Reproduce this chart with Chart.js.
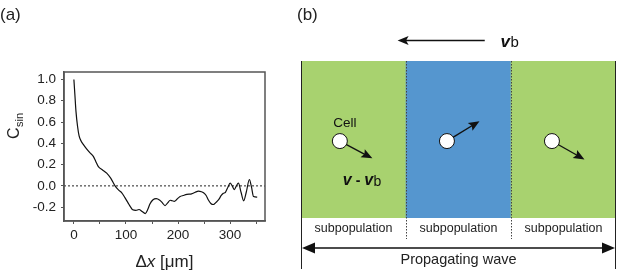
<!DOCTYPE html>
<html>
<head>
<meta charset="utf-8">
<script src="https://cdn.jsdelivr.net/npm/chart.js@4.4.0/dist/chart.umd.min.js"></script>
<style>
  html, body { margin:0; padding:0; background:#fff; }
  #wrap { position:relative; width:617px; height:273px; overflow:hidden; }
  #ca { position:absolute; left:0; top:0; }
  #cb { position:absolute; left:280px; top:0; }
</style>
</head>
<body>
<div id="wrap">
  <canvas id="ca" width="280" height="273"></canvas>
  <canvas id="cb" width="337" height="273"></canvas>
</div>
<script>
// ---------- Panel (a) data ----------
const dxValues = [0, 2, 4, 7, 10, 14, 18, 24, 31, 37, 42, 47, 55, 63, 71, 79, 86, 92, 98, 104, 109, 113, 119, 125, 131, 137, 142, 146, 152, 158, 165, 170, 175, 180, 185, 189, 193, 198, 204, 210, 217, 226, 233, 239, 245, 249, 254, 258, 263, 268, 273, 278, 283, 287, 291, 296, 300, 304, 308, 312, 316, 321, 326, 331, 337, 341, 345, 352];
const csinValues = [1.0, 0.85, 0.7, 0.56, 0.47, 0.42, 0.39, 0.35, 0.31, 0.28, 0.23, 0.18, 0.15, 0.12, 0.07, 0.0, -0.04, -0.065, -0.11, -0.16, -0.2, -0.225, -0.23, -0.222, -0.24, -0.26, -0.22, -0.17, -0.13, -0.12, -0.135, -0.16, -0.185, -0.16, -0.135, -0.14, -0.145, -0.125, -0.1, -0.09, -0.08, -0.075, -0.06, -0.05, -0.055, -0.065, -0.09, -0.13, -0.165, -0.175, -0.155, -0.13, -0.09, -0.07, -0.06, -0.01, 0.025, 0.0, -0.035, 0.0, 0.025, -0.06, -0.14, -0.06, 0.06, -0.01, -0.1, -0.105];
const xTickValues = [0, 50, 100, 150, 200, 250, 300, 350];
const yTickValues = [-0.2, 0.0, 0.2, 0.4, 0.6, 0.8, 1.0];

// ---------- Panel (b) data ----------
const regionLabels = ['subpopulation', 'subpopulation', 'subpopulation'];
const regionCenters = [0.5, 1.5, 2.5];
const regionColors = ['#a8d26f', '#5596cf', '#a8d26f'];
const cellX = [0.37, 1.39, 2.39];
const cellY = [0.49, 0.49, 0.49];
const cellVx = [0.31, 0.31, 0.31];
const cellVy = [-0.11, 0.127, -0.117];

const FONT = "'Liberation Sans', Arial, sans-serif";

function headAt(ctx, x1, y1, x2, y2, len, half, indent) {
  const a = Math.atan2(y2 - y1, x2 - x1);
  const c = Math.cos(a), s = Math.sin(a);
  ctx.beginPath();
  ctx.moveTo(x2, y2);
  ctx.lineTo(x2 - len * c + half * s, y2 - len * s - half * c);
  ctx.lineTo(x2 - (len - indent) * c, y2 - (len - indent) * s);
  ctx.lineTo(x2 - len * c - half * s, y2 - len * s + half * c);
  ctx.closePath();
  ctx.fill();
}

// ---------- Chart (a) ----------
const panelA = {
  id: 'panelA',
  beforeDatasetsDraw(chart) {
    const {ctx, chartArea, scales} = chart;
    const y0 = scales.y.getPixelForValue(0);
    ctx.save();
    ctx.strokeStyle = '#222';
    ctx.lineWidth = 1;
    ctx.setLineDash([2, 2]);
    ctx.beginPath();
    ctx.moveTo(chartArea.left, y0);
    ctx.lineTo(chartArea.right, y0);
    ctx.stroke();
    ctx.restore();
  },
  afterDraw(chart) {
    const {ctx, chartArea} = chart;
    ctx.save();
    ctx.strokeStyle = '#555';
    ctx.lineWidth = 1.5;
    ctx.strokeRect(chartArea.left, chartArea.top, chartArea.right - chartArea.left, chartArea.bottom - chartArea.top);
    ctx.fillStyle = '#222';
    ctx.textBaseline = 'middle';
    ctx.textAlign = 'left';
    ctx.font = '17px ' + FONT;
    ctx.fillText('(a)', 0, 15);
    // x title: Δx [μm]
    const cx = (chartArea.left + chartArea.right) / 2;
    const ty = 262;
    ctx.font = '17px ' + FONT;
    const w1 = ctx.measureText('Δ').width;
    ctx.font = 'italic 17px ' + FONT;
    const w2 = ctx.measureText('x').width;
    ctx.font = '17px ' + FONT;
    const w3 = ctx.measureText(' [μm]').width;
    let x = cx - (w1 + w2 + w3) / 2;
    ctx.fillText('Δ', x, ty); x += w1;
    ctx.font = 'italic 17px ' + FONT;
    ctx.fillText('x', x, ty); x += w2;
    ctx.font = '17px ' + FONT;
    ctx.fillText(' [μm]', x, ty);
    // y title: C_sin
    ctx.translate(18.5, 139);
    ctx.rotate(-Math.PI / 2);
    ctx.textBaseline = 'alphabetic';
    ctx.font = '16px ' + FONT;
    ctx.fillText('C', 0, 0);
    const wc = ctx.measureText('C').width;
    ctx.font = '11px ' + FONT;
    ctx.fillText('sin', wc + 0.5, 4);
    ctx.restore();
  }
};

new Chart(document.getElementById('ca'), {
  type: 'line',
  data: {
    datasets: [{
      data: dxValues.map((v, i) => ({x: v, y: csinValues[i]})),
      borderColor: '#111',
      borderWidth: 1.2,
      pointRadius: 0,
      cubicInterpolationMode: 'monotone',
      fill: false
    }]
  },
  options: {
    responsive: false,
    animation: false,
    layout: {padding: {left: 0, top: 72, right: 15, bottom: 0}},
    plugins: {legend: {display: false}, tooltip: {enabled: false}},
    scales: {
      x: {
        type: 'linear', min: -19, max: 367,
        afterBuildTicks: s => { s.ticks = xTickValues.map(v => ({value: v})); },
        afterFit: s => { s.height = 52; },
        ticks: {
          autoSkip: false, maxRotation: 0, padding: 3, color: '#222',
          font: {family: FONT, size: 13.5},
          callback: v => (Math.round(v) % 100 === 0 ? String(Math.round(v)) : '')
        },
        grid: {drawOnChartArea: false, drawTicks: true, tickLength: 3, tickColor: '#555', tickWidth: 1},
        border: {color: '#555', width: 1.5}
      },
      y: {
        type: 'linear', min: -0.33, max: 1.07,
        afterBuildTicks: s => { s.ticks = yTickValues.map(v => ({value: v})); },
        afterFit: s => { s.width = 64; },
        ticks: {
          autoSkip: false, padding: 5, color: '#222',
          font: {family: FONT, size: 13.5},
          callback: v => Number(v).toFixed(1)
        },
        grid: {drawOnChartArea: false, drawTicks: true, tickLength: 3, tickColor: '#555', tickWidth: 1},
        border: {color: '#555', width: 1.5}
      }
    }
  },
  plugins: [panelA]
});

// ---------- Chart (b) ----------
const panelB = {
  id: 'panelB',
  afterDatasetsDraw(chart) {
    const {ctx, chartArea, scales} = chart;
    const xs = scales.x, ys = scales.y;
    const top = chartArea.top, bot = chartArea.bottom;
    ctx.save();
    // cell velocity arrows
    ctx.strokeStyle = '#111';
    ctx.fillStyle = '#111';
    ctx.lineWidth = 1.4;
    const r = 7.5;
    for (let i = 0; i < cellX.length; i++) {
      const px = xs.getPixelForValue(cellX[i]);
      const py = ys.getPixelForValue(cellY[i]);
      const tx = xs.getPixelForValue(cellX[i] + cellVx[i]);
      const ty = ys.getPixelForValue(cellY[i] + cellVy[i]);
      const a = Math.atan2(ty - py, tx - px);
      const sx = px + r * Math.cos(a), sy = py + r * Math.sin(a);
      const ex = tx - 6 * Math.cos(a), ey = ty - 6 * Math.sin(a);
      ctx.beginPath(); ctx.moveTo(sx, sy); ctx.lineTo(ex, ey); ctx.stroke();
      headAt(ctx, sx, sy, tx, ty, 11, 4.5, 2);
    }
    // region separators (dotted)
    ctx.strokeStyle = '#444';
    ctx.lineWidth = 1;
    ctx.setLineDash([1.5, 1.5]);
    for (const v of [1, 2]) {
      const x = Math.round(xs.getPixelForValue(v)) + 0.5;
      ctx.beginPath(); ctx.moveTo(x, top); ctx.lineTo(x, bot + 21); ctx.stroke();
    }
    ctx.setLineDash([]);
    // outer lines
    ctx.strokeStyle = '#222';
    for (const v of [0, 3]) {
      const x = Math.round(xs.getPixelForValue(v)) + (v === 0 ? 0.5 : -0.5);
      ctx.beginPath(); ctx.moveTo(x, top); ctx.lineTo(x, bot + 51); ctx.stroke();
    }
    // labels
    ctx.fillStyle = '#222';
    ctx.textAlign = 'center';
    ctx.textBaseline = 'middle';
    ctx.font = '12.5px ' + FONT;
    regionLabels.forEach((t, i) => ctx.fillText(t, xs.getPixelForValue(regionCenters[i]), bot + 11));
    // propagating wave arrow
    const l = xs.getPixelForValue(0) + 1, rr = xs.getPixelForValue(3) - 1, ay = bot + 30;
    ctx.strokeStyle = '#111'; ctx.fillStyle = '#111'; ctx.lineWidth = 1.3;
    ctx.beginPath(); ctx.moveTo(l + 8, ay); ctx.lineTo(rr - 8, ay); ctx.stroke();
    headAt(ctx, rr, ay, l, ay, 13, 5.5, 0);
    headAt(ctx, l, ay, rr, ay, 13, 5.5, 0);
    ctx.fillStyle = '#222';
    ctx.font = '14.5px ' + FONT;
    ctx.fillText('Propagating wave', (l + rr) / 2, bot + 41.5);
    // top background-velocity arrow
    const bx1 = xs.getPixelForValue(1.75), bx2 = xs.getPixelForValue(0.92), by = top - 20.5;
    ctx.strokeStyle = '#111'; ctx.fillStyle = '#111'; ctx.lineWidth = 1.3;
    ctx.beginPath(); ctx.moveTo(bx1, by); ctx.lineTo(bx2 + 6, by); ctx.stroke();
    headAt(ctx, bx1, by, bx2, by, 11, 4.5, 2.5);
    // v_b
    ctx.textAlign = 'left';
    ctx.textBaseline = 'alphabetic';
    let x = xs.getPixelForValue(1.90);
    ctx.font = 'bold italic 17px ' + FONT;
    ctx.fillText('v', x, by + 6);
    x += ctx.measureText('v').width + 0.5;
    ctx.font = '15px ' + FONT;
    ctx.fillText('b', x, by + 6);
    // Cell label
    const c0x = xs.getPixelForValue(cellX[0]), c0y = ys.getPixelForValue(cellY[0]);
    ctx.textAlign = 'center';
    ctx.textBaseline = 'middle';
    ctx.font = '13.5px ' + FONT;
    ctx.fillText('Cell', c0x + 5, c0y - 18);
    // v - v_b
    ctx.textAlign = 'left';
    ctx.textBaseline = 'alphabetic';
    let vx = c0x + 3, vy = c0y + 44;
    ctx.font = 'bold italic 16px ' + FONT;
    ctx.fillText('v', vx, vy); vx += ctx.measureText('v').width;
    ctx.font = 'bold 14px ' + FONT;
    ctx.fillText(' - ', vx, vy); vx += ctx.measureText(' - ').width;
    ctx.font = 'bold italic 16px ' + FONT;
    ctx.fillText('v', vx, vy); vx += ctx.measureText('v').width + 0.5;
    ctx.font = '14px ' + FONT;
    ctx.fillText('b', vx, vy + 1);
    // (b)
    ctx.font = '17px ' + FONT;
    ctx.textBaseline = 'middle';
    ctx.fillStyle = '#222';
    ctx.fillText('(b)', 17, 15);
    ctx.restore();
  }
};

new Chart(document.getElementById('cb'), {
  type: 'bar',
  data: {
    datasets: [{
      type: 'bar',
      data: regionCenters.map(v => ({x: v, y: 1})),
      backgroundColor: regionColors,
      borderWidth: 0,
      barPercentage: 1,
      categoryPercentage: 1,
      order: 2
    }, {
      type: 'scatter',
      data: cellX.map((v, i) => ({x: v, y: cellY[i]})),
      pointRadius: 7.5,
      pointBackgroundColor: '#fff',
      pointBorderColor: '#111',
      pointBorderWidth: 1,
      order: 1
    }]
  },
  options: {
    responsive: false,
    animation: false,
    layout: {autoPadding: false, padding: {left: 21, right: 1, top: 61, bottom: 55}},
    plugins: {legend: {display: false}, tooltip: {enabled: false}},
    scales: {
      x: {type: 'linear', min: 0, max: 3, display: false, offset: false,
          afterBuildTicks: s => { s.ticks = [0, 1, 2, 3].map(v => ({value: v})); }},
      y: {type: 'linear', min: 0, max: 1, display: false}
    }
  },
  plugins: [panelB]
});
</script>
</body>
</html>
